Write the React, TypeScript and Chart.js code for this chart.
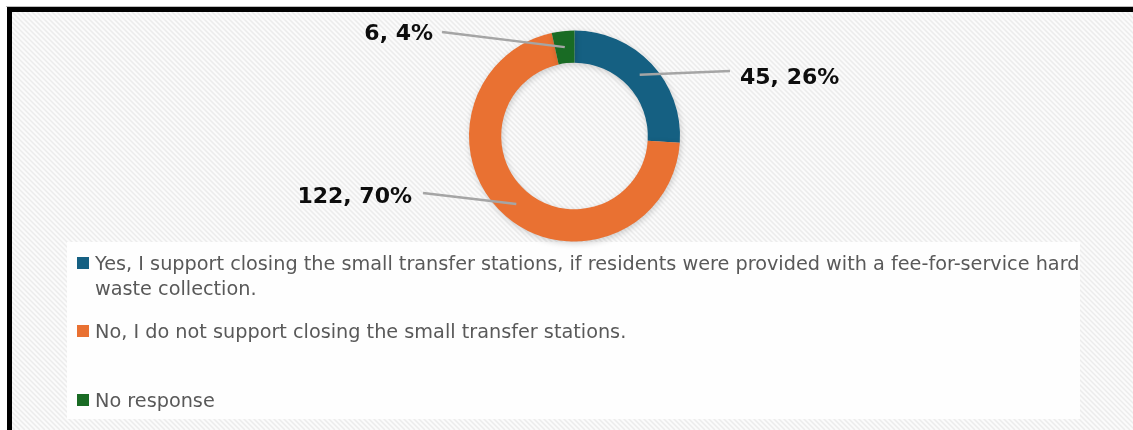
import React, { useEffect, useRef } from "react";
import { Chart, registerables } from "chart.js";

Chart.register(...registerables);

// ---- data ----
const CATEGORIES: (string | string[])[] = [
  [
    "Yes, I support closing the small transfer stations, if residents were provided with a fee-for-service hard",
    "waste collection.",
  ],
  "No, I do not support closing the small transfer stations.",
  "No response",
];
const COUNTS = [45, 122, 6];
const PERCENTS = [26, 70, 4];
const COLORS = ["#156082", "#E97132", "#196B24"];

// ---- layout ----
const W = 1133;
const H = 430;
const LABEL_LAYOUT = [
  { x: 740, base: 84, align: "left" as CanvasTextAlign, lx: 730, ly: 71 },
  { x: 412, base: 203, align: "right" as CanvasTextAlign, lx: 423, ly: 193 },
  { x: 433, base: 40, align: "right" as CanvasTextAlign, lx: 442, ly: 32 },
];
const LEGEND_BASELINES = [270, 338, 407];
const LEGEND_BOX = { x: 67, y: 242, w: 1013, h: 177 };

const bgPlugin = {
  id: "bg",
  beforeDraw(chart: any) {
    const ctx: CanvasRenderingContext2D = chart.ctx;
    ctx.save();
    ctx.fillStyle = "#ffffff";
    ctx.fillRect(0, 0, W, H);
    ctx.beginPath();
    ctx.rect(12, 12, W - 12, H - 12);
    ctx.clip();
    ctx.fillStyle = "#fbfbfb";
    ctx.fillRect(12, 12, W, H);
    ctx.strokeStyle = "#ececec";
    ctx.lineWidth = 1.5;
    ctx.beginPath();
    for (let k = -H; k < W + H; k += 5) {
      ctx.moveTo(k, 0);
      ctx.lineTo(k + H, H);
    }
    ctx.stroke();
    ctx.fillStyle = "#fefefe";
    ctx.fillRect(LEGEND_BOX.x, LEGEND_BOX.y, LEGEND_BOX.w, LEGEND_BOX.h);
    ctx.restore();
    ctx.fillStyle = "#bdbdbd";
    ctx.fillRect(6, 6, W - 6, 1);
    ctx.fillStyle = "#000000";
    ctx.fillRect(7, 7, W - 7, 5);
    ctx.fillRect(7, 7, 5, H - 7);
  },
};

const shadowPlugin = {
  id: "shadow",
  beforeDatasetsDraw(chart: any) {
    const ctx = chart.ctx;
    ctx.save();
    ctx.shadowColor = "rgba(0,0,0,0.18)";
    ctx.shadowBlur = 6;
    ctx.shadowOffsetX = 1;
    ctx.shadowOffsetY = 2;
  },
  afterDatasetsDraw(chart: any) {
    chart.ctx.restore();
  },
};

const labelPlugin = {
  id: "labels",
  afterDatasetsDraw(chart: any) {
    const ctx: CanvasRenderingContext2D = chart.ctx;
    const meta = chart.getDatasetMeta(0);
    ctx.save();
    meta.data.forEach((arc: any, i: number) => {
      const p = arc.tooltipPosition(true);
      const L = LABEL_LAYOUT[i];
      ctx.strokeStyle = "#a5a5a5";
      ctx.lineWidth = 2.5;
      ctx.beginPath();
      ctx.moveTo(L.lx, L.ly);
      ctx.lineTo(p.x, p.y);
      ctx.stroke();
      ctx.fillStyle = "#0d0d0d";
      ctx.font = "bold 22px 'DejaVu Sans'";
      ctx.textAlign = L.align;
      ctx.textBaseline = "alphabetic";
      ctx.fillText(`${COUNTS[i]}, ${PERCENTS[i]}%`, L.x, L.base);
    });
    ctx.restore();
  },
};

const legendPlugin = {
  id: "customLegend",
  afterDraw(chart: any) {
    const ctx: CanvasRenderingContext2D = chart.ctx;
    ctx.save();
    ctx.font = "19.25px 'DejaVu Sans'";
    ctx.textAlign = "left";
    ctx.textBaseline = "alphabetic";
    CATEGORIES.forEach((cat, i) => {
      const base = LEGEND_BASELINES[i];
      ctx.fillStyle = COLORS[i];
      ctx.fillRect(77, base - 13, 12, 12);
      ctx.fillStyle = "#595959";
      const lines = Array.isArray(cat) ? cat : [cat];
      lines.forEach((line, j) => ctx.fillText(line, 95, base + j * 25));
    });
    ctx.restore();
  },
};

export default function App() {
  const ref = useRef<HTMLCanvasElement>(null);
  useEffect(() => {
    const canvas = ref.current!;
    const chart = new Chart(canvas, {
      type: "doughnut",
      data: {
        labels: CATEGORIES as any,
        datasets: [
          {
            data: COUNTS,
            backgroundColor: COLORS,
            borderWidth: 0,
            hoverOffset: 0,
            hoverBorderWidth: 0,
          } as any,
        ],
      },
      options: {
        responsive: false,
        animation: false,
        cutout: "69.5%",
        events: [],
        layout: { padding: { left: 469, right: 453, top: 30.5, bottom: 188.5 } },
        plugins: { legend: { display: false }, tooltip: { enabled: false } },
      } as any,
      plugins: [bgPlugin, shadowPlugin, labelPlugin, legendPlugin],
    });
    return () => chart.destroy();
  }, []);
  return (
    <div style={{ position: "fixed", left: 0, top: 0, width: W, height: H }}>
      <canvas ref={ref} width={W} height={H} style={{ display: "block", width: W, height: H }} />
    </div>
  );
}
